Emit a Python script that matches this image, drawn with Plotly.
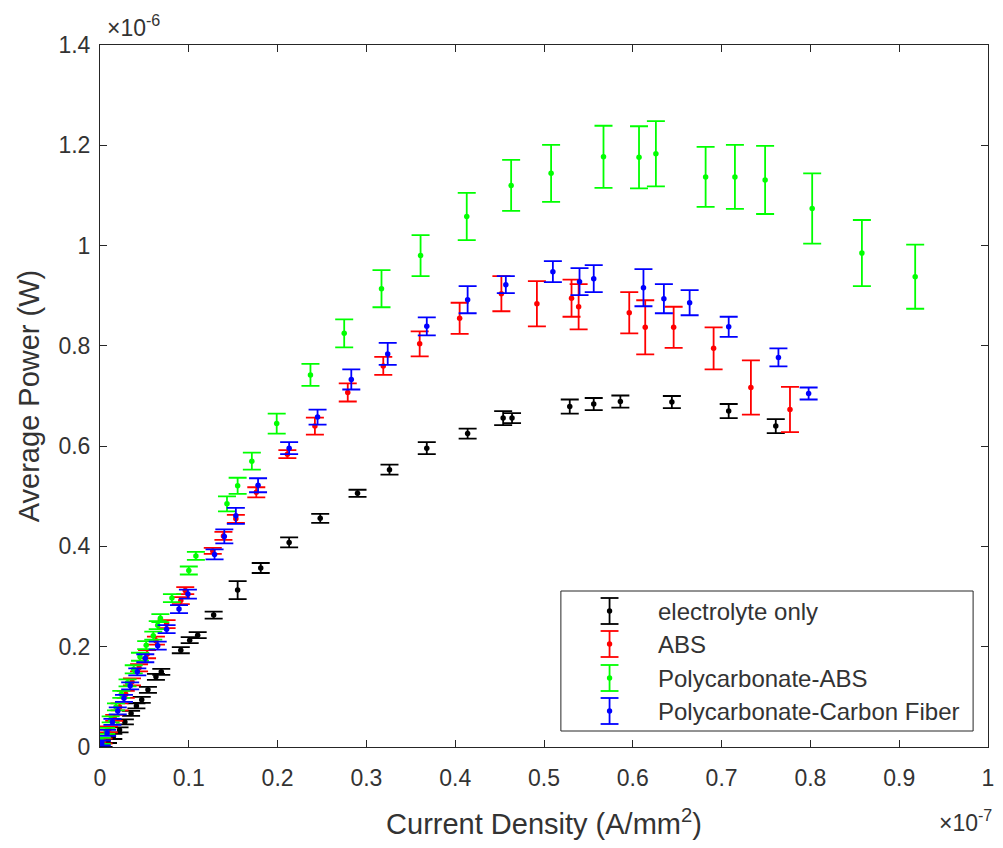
import plotly.graph_objects as go

# Current density in units of 1e-7 A/mm^2, average power in units of 1e-6 W
elec_x = [0.004, 0.009, 0.015, 0.022, 0.028, 0.035, 0.041, 0.047, 0.054, 0.063, 0.069,
          0.091, 0.101, 0.110, 0.128, 0.155, 0.181, 0.213, 0.248, 0.290, 0.326, 0.368,
          0.414, 0.454, 0.464, 0.529, 0.556, 0.586, 0.644, 0.708, 0.761]
elec_y = [0.004, 0.012, 0.021, 0.034, 0.050, 0.067, 0.082, 0.094, 0.114, 0.140, 0.150,
          0.193, 0.213, 0.223, 0.263, 0.313, 0.357, 0.408, 0.456, 0.506, 0.553, 0.596,
          0.625, 0.656, 0.656, 0.679, 0.684, 0.689, 0.688, 0.670, 0.640]
elec_err = [0.004, 0.004, 0.005, 0.005, 0.005, 0.005, 0.005, 0.006, 0.006, 0.006, 0.006,
            0.006, 0.006, 0.006, 0.007, 0.018, 0.010, 0.010, 0.009, 0.007, 0.010, 0.012,
            0.010, 0.014, 0.010, 0.014, 0.012, 0.012, 0.012, 0.014, 0.014]

abs_x = [0.004, 0.010, 0.016, 0.022, 0.029, 0.036, 0.044, 0.053, 0.063, 0.075, 0.091,
         0.096, 0.127, 0.139, 0.153, 0.176, 0.211, 0.242, 0.279, 0.319, 0.360, 0.405,
         0.452, 0.492, 0.531, 0.539, 0.596, 0.614, 0.646, 0.691, 0.733, 0.777]
abs_y = [0.012, 0.035, 0.058, 0.080, 0.105, 0.130, 0.158, 0.185, 0.212, 0.245, 0.292,
         0.312, 0.391, 0.421, 0.455, 0.508, 0.584, 0.640, 0.707, 0.760, 0.804, 0.855,
         0.904, 0.884, 0.895, 0.878, 0.866, 0.837, 0.837, 0.795, 0.717, 0.673]
abs_err = [0.005, 0.006, 0.006, 0.007, 0.007, 0.007, 0.007, 0.008, 0.008, 0.008, 0.007,
           0.007, 0.006, 0.008, 0.008, 0.010, 0.008, 0.017, 0.018, 0.018, 0.025, 0.031,
           0.035, 0.045, 0.037, 0.045, 0.041, 0.054, 0.041, 0.042, 0.054, 0.045]

pcabs_x = [0.002, 0.007, 0.012, 0.018, 0.024, 0.031, 0.038, 0.045, 0.052, 0.060, 0.065,
           0.068, 0.081, 0.100, 0.108, 0.143, 0.155, 0.171, 0.199, 0.237, 0.275, 0.317,
           0.361, 0.413, 0.463, 0.508, 0.567, 0.607, 0.626, 0.682, 0.715, 0.749, 0.802,
           0.858, 0.918]
pcabs_y = [0.012, 0.032, 0.055, 0.080, 0.105, 0.128, 0.155, 0.180, 0.203, 0.222, 0.243,
           0.257, 0.297, 0.352, 0.381, 0.485, 0.521, 0.570, 0.645, 0.742, 0.825, 0.914,
           0.980, 1.058, 1.120, 1.144, 1.177, 1.176, 1.183, 1.137, 1.137, 1.131, 1.074,
           0.985, 0.938]
pcabs_err = [0.006, 0.006, 0.006, 0.007, 0.007, 0.007, 0.008, 0.008, 0.008, 0.008, 0.008,
             0.008, 0.008, 0.008, 0.008, 0.015, 0.016, 0.017, 0.020, 0.022, 0.028, 0.037,
             0.041, 0.047, 0.051, 0.057, 0.062, 0.062, 0.065, 0.060, 0.064, 0.068, 0.070,
             0.066, 0.064]

pccf_x = [0.002, 0.008, 0.014, 0.020, 0.027, 0.034, 0.042, 0.051, 0.065, 0.075, 0.089,
          0.099, 0.129, 0.140, 0.153, 0.178, 0.213, 0.245, 0.283, 0.324, 0.368, 0.414,
          0.457, 0.510, 0.540, 0.556, 0.612, 0.635, 0.664, 0.708, 0.764, 0.798]
pccf_y = [0.008, 0.028, 0.050, 0.072, 0.097, 0.122, 0.150, 0.177, 0.202, 0.235, 0.275,
          0.305, 0.384, 0.420, 0.461, 0.522, 0.596, 0.658, 0.733, 0.784, 0.839, 0.892,
          0.922, 0.948, 0.928, 0.934, 0.916, 0.894, 0.886, 0.838, 0.777, 0.705]
pccf_err = [0.005, 0.006, 0.006, 0.007, 0.007, 0.007, 0.007, 0.008, 0.008, 0.008, 0.008,
            0.009, 0.010, 0.014, 0.016, 0.014, 0.012, 0.015, 0.020, 0.022, 0.018, 0.027,
            0.017, 0.021, 0.027, 0.027, 0.037, 0.029, 0.025, 0.020, 0.018, 0.012]

series_names = ["electrolyte only", "ABS", "Polycarbonate-ABS", "Polycarbonate-Carbon Fiber"]
series_colors = ["#000000", "#ff0000", "#00ff00", "#0000ff"]

x_ticks = [0, 0.1, 0.2, 0.3, 0.4, 0.5, 0.6, 0.7, 0.8, 0.9, 1]
x_tick_text = ["0", "0.1", "0.2", "0.3", "0.4", "0.5", "0.6", "0.7", "0.8", "0.9", "1"]
y_ticks = [0, 0.2, 0.4, 0.6, 0.8, 1.0, 1.2, 1.4]
y_tick_text = ["0", "0.2", "0.4", "0.6", "0.8", "1", "1.2", "1.4"]

FONT = "Liberation Sans, Arial, sans-serif"
TXT = "#333333"

fig = go.Figure()
datasets = [(elec_x, elec_y, elec_err), (abs_x, abs_y, abs_err),
            (pcabs_x, pcabs_y, pcabs_err), (pccf_x, pccf_y, pccf_err)]
for (xs, ys, es), name, color in zip(datasets, series_names, series_colors):
    fig.add_trace(go.Scatter(
        x=xs, y=ys, mode="markers", name=name, showlegend=False,
        marker=dict(color=color, size=5.5),
        error_y=dict(type="data", array=es, visible=True, color=color,
                     thickness=1.8, width=9),
    ))

W, H = 1003, 848
L, R, T, B = 100, 9, 45, 101
pw, ph = W - L - R, H - T - B


def px_x(p):
    return (p - L) / pw


def px_y(p):
    return (H - B - p) / ph


shapes = []
annotations = []

# legend box
shapes.append(dict(type="rect", xref="paper", yref="paper",
                   x0=px_x(564), x1=px_x(979), y0=px_y(731), y1=px_y(591),
                   line=dict(color="#262626", width=1), fillcolor="white", layer="above"))
row_y = [611, 644, 678, 711]
icon_x = 613
for name, color, ry in zip(series_names, series_colors, row_y):
    shapes.append(dict(type="line", xref="paper", yref="paper",
                       x0=px_x(icon_x), x1=px_x(icon_x), y0=px_y(ry - 13), y1=px_y(ry + 13),
                       line=dict(color=color, width=1.8), layer="above"))
    for cy in (ry - 13, ry + 13):
        shapes.append(dict(type="line", xref="paper", yref="paper",
                           x0=px_x(icon_x - 9), x1=px_x(icon_x + 9), y0=px_y(cy), y1=px_y(cy),
                           line=dict(color=color, width=1.8), layer="above"))
    shapes.append(dict(type="circle", xref="paper", yref="paper",
                       x0=px_x(icon_x - 2.7), x1=px_x(icon_x + 2.7),
                       y0=px_y(ry + 2.7), y1=px_y(ry - 2.7),
                       line=dict(color=color, width=0), fillcolor=color, layer="above"))
    annotations.append(dict(text=name, xref="paper", yref="paper", x=px_x(660), y=px_y(ry),
                            xanchor="left", yanchor="middle", showarrow=False,
                            font=dict(family=FONT, size=24, color=TXT)))

# axis exponent labels
annotations.append(dict(text="\u00d710<sup>-6</sup>", xref="paper", yref="paper",
                        x=px_x(105), y=px_y(43), xanchor="left", yanchor="bottom",
                        showarrow=False, font=dict(family=FONT, size=23, color=TXT)))
annotations.append(dict(text="\u00d710<sup>-7</sup>", xref="paper", yref="paper",
                        x=px_x(1000), y=px_y(821), xanchor="right", yanchor="middle",
                        showarrow=False, font=dict(family=FONT, size=23, color=TXT)))

axis_common = dict(showgrid=False, zeroline=False, showline=True, linecolor="#262626",
                   linewidth=1, mirror="allticks", ticks="inside", ticklen=7,
                   tickcolor="#262626", tickfont=dict(family=FONT, size=23, color=TXT))

fig.update_layout(
    width=W, height=H,
    margin=dict(l=L, r=R, t=T, b=B),
    paper_bgcolor="white", plot_bgcolor="white",
    xaxis=dict(range=[0, 1], tickvals=x_ticks, ticktext=x_tick_text, ticklabelstandoff=10,
               title=dict(text="Current Density (A/mm<sup>2</sup>)",
                          font=dict(family=FONT, size=29, color=TXT), standoff=24),
               **axis_common),
    yaxis=dict(range=[0, 1.4], tickvals=y_ticks, ticktext=y_tick_text, ticklabelstandoff=4,
               title=dict(text="Average Power (W)",
                          font=dict(family=FONT, size=29, color=TXT), standoff=10),
               **axis_common),
    shapes=shapes, annotations=annotations, showlegend=False,
)

fig.write_html("out.html")
